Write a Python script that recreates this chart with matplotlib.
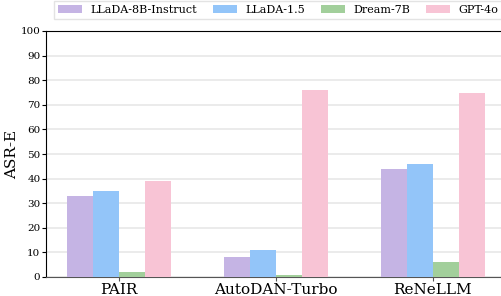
import matplotlib
matplotlib.use("Agg")
import matplotlib.pyplot as plt
import numpy as np

categories = ["PAIR", "AutoDAN-Turbo", "ReNeLLM"]
models = ["LLaDA-8B-Instruct", "LLaDA-1.5", "Dream-7B", "GPT-4o"]
llada_8b = [33, 8, 44]
llada_15 = [35, 11, 46]
dream_7b = [2, 1, 6]
gpt_4o = [39, 76, 74.6]
yticks = list(range(0, 101, 10))

colors = ["#C5B4E4", "#93C5F9", "#A2CF9B", "#F8C4D5"]
series = [llada_8b, llada_15, dream_7b, gpt_4o]

plt.rcParams['font.family'] = ['DejaVu Serif']

fig = plt.figure(figsize=(5.02, 2.96), dpi=100)
ax = fig.add_axes([46/502, 19/296, 1 - 46/502, (277-31)/296])

x = np.arange(len(categories))
w = 0.166
for i, (vals, c, m) in enumerate(zip(series, colors, models)):
    ax.bar(x + (i - 1.5) * w, vals, width=w, color=c, label=m, zorder=3)

ax.set_xlim(-0.465, 2.44)
ax.set_ylim(0, 100)
ax.set_yticks(yticks)
ax.set_yticklabels([str(t) for t in yticks], fontsize=7.5)
ax.set_xticks(x)
ax.set_xticklabels(categories, fontsize=11)
ax.set_ylabel("ASR-E", fontsize=11)
ax.yaxis.set_label_coords(-0.059, 0.5)
ax.yaxis.grid(True, color="#e8e8e8", linewidth=1.2, zorder=0)
ax.set_axisbelow(True)
ax.spines['right'].set_visible(False)
ax.spines['top'].set_color('black')
ax.spines['left'].set_color('black')
ax.spines['bottom'].set_color('#555555')
ax.tick_params(axis='y', length=3, pad=1)
ax.tick_params(axis='x', length=3, pad=1, color='#555555')

fig.legend(loc='upper left', bbox_to_anchor=(53/502, 1.0), ncol=4, fontsize=8,
           frameon=True, edgecolor='#dddddd', fancybox=False, borderaxespad=0.1,
           columnspacing=1.45, handlelength=2.15, handleheight=0.75, handletextpad=0.75,
           borderpad=0.35)

fig.savefig("out.png", dpi=100)
